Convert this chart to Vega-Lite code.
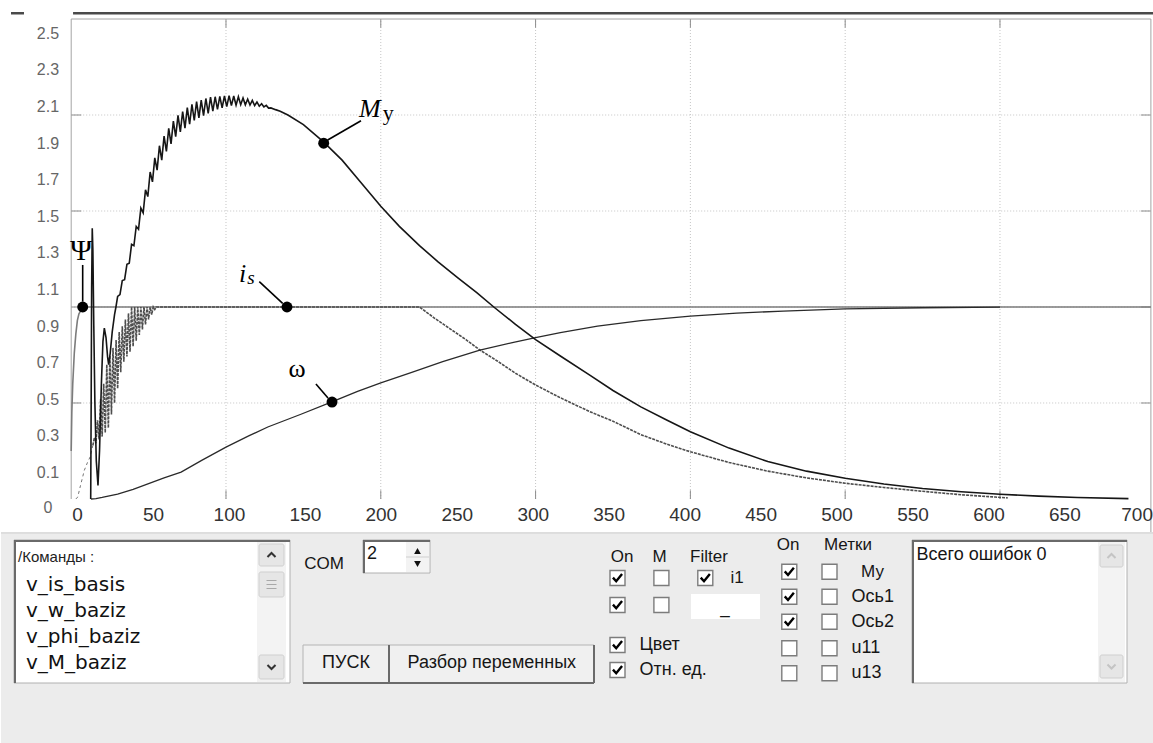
{
  "$schema": "https://vega.github.io/schema/vega-lite/v6.json",
  "background": "white",
  "padding": 0,
  "spacing": 0,
  "bounds": "flush",
  "config": {"view": {"stroke": null}},
  "resolve": {"scale": {"x": "independent", "y": "independent"}},
  "datasets": {
    "gridx": [{"t": 100}, {"t": 200}, {"t": 300}, {"t": 400}, {"t": 500}, {"t": 600}],
    "gridy": [{"v": 0.5}, {"v": 1.0}, {"v": 1.5}, {"v": 2.0}],
    "xlabels": [{"t":4.07,"s":"0"},{"t":53.14,"s":"50"},{"t":102.2,"s":"100"},{"t":151.3,"s":"150"},{"t":200.3,"s":"200"},{"t":249.4,"s":"250"},{"t":298.5,"s":"300"},{"t":347.5,"s":"350"},{"t":396.6,"s":"400"},{"t":445.7,"s":"450"},{"t":494.7,"s":"500"},{"t":543.8,"s":"550"},{"t":592.9,"s":"600"},{"t":641.9,"s":"650"},{"t":688.6,"s":"700"}],
    "ylabels": [{"v":-0.0469,"s":"0"},{"v":0.1354,"s":"0.1"},{"v":0.326,"s":"0.3"},{"v":0.5167,"s":"0.5"},{"v":0.7073,"s":"0.7"},{"v":0.8979,"s":"0.9"},{"v":1.0885,"s":"1.1"},{"v":1.2792,"s":"1.3"},{"v":1.4698,"s":"1.5"},{"v":1.6604,"s":"1.7"},{"v":1.851,"s":"1.9"},{"v":2.0417,"s":"2.1"},{"v":2.2323,"s":"2.3"},{"v":2.4229,"s":"2.5"}],
    "psi": [{"t":0,"v":0.25},{"t":0.4,"v":0.45},{"t":1,"v":0.6},{"t":2,"v":0.76},{"t":3,"v":0.86},{"t":4,"v":0.93},{"t":5,"v":0.965},{"t":6.5,"v":0.985},{"t":8.5,"v":0.997},{"t":11,"v":1.0},{"t":697.5,"v":1.0}],
    "is_early": [{"t":3,"v":0},{"t":4.2,"v":0.01},{"t":6,"v":0.07},{"t":8.5,"v":0.15},{"t":10.5,"v":0.19},{"t":12.3,"v":0.22},{"t":14,"v":0.28}],
    "is": [{"t":14,"v":0.28},{"t":15,"v":0.32},{"t":16,"v":0.29},{"t":17,"v":0.41},{"t":18,"v":0.31},{"t":19,"v":0.52},{"t":20,"v":0.325},{"t":21,"v":0.6},{"t":22,"v":0.345},{"t":23,"v":0.7},{"t":24,"v":0.37},{"t":25,"v":0.745},{"t":26,"v":0.44},{"t":27,"v":0.787},{"t":28,"v":0.5},{"t":29,"v":0.828},{"t":30,"v":0.575},{"t":31,"v":0.87},{"t":32,"v":0.66},{"t":33,"v":0.9},{"t":34,"v":0.715},{"t":35,"v":0.935},{"t":36,"v":0.742},{"t":37,"v":0.967},{"t":38,"v":0.767},{"t":39,"v":1.0},{"t":40,"v":0.795},{"t":41,"v":1.0},{"t":42,"v":0.825},{"t":43,"v":1.0},{"t":44,"v":0.855},{"t":45,"v":1.0},{"t":46,"v":0.883},{"t":47,"v":1.0},{"t":48,"v":0.909},{"t":49,"v":1.0},{"t":50,"v":0.935},{"t":51,"v":1.0},{"t":52,"v":0.96},{"t":53,"v":1.0},{"t":54,"v":0.987},{"t":55,"v":1.0},{"t":225,"v":1.0},{"t":235,"v":0.94},{"t":245,"v":0.885},{"t":255,"v":0.83},{"t":264,"v":0.776},{"t":275,"v":0.72},{"t":287,"v":0.655},{"t":300,"v":0.594},{"t":316,"v":0.527},{"t":335,"v":0.455},{"t":350,"v":0.405},{"t":368,"v":0.335},{"t":385,"v":0.285},{"t":400,"v":0.246},{"t":425,"v":0.19},{"t":450,"v":0.145},{"t":475,"v":0.11},{"t":500,"v":0.082},{"t":525,"v":0.06},{"t":550,"v":0.04},{"t":575,"v":0.022},{"t":597,"v":0.01},{"t":605,"v":0.006}],
    "omega": [{"t":12.8,"v":0},{"t":16,"v":0.002},{"t":20,"v":0.008},{"t":30,"v":0.025},{"t":40,"v":0.05},{"t":50,"v":0.08},{"t":60,"v":0.11},{"t":71,"v":0.14},{"t":84,"v":0.2},{"t":100,"v":0.27},{"t":115,"v":0.33},{"t":127,"v":0.375},{"t":148,"v":0.44},{"t":168,"v":0.505},{"t":185,"v":0.56},{"t":200,"v":0.605},{"t":220,"v":0.66},{"t":240,"v":0.715},{"t":264,"v":0.775},{"t":285,"v":0.815},{"t":300,"v":0.84},{"t":316,"v":0.866},{"t":340,"v":0.9},{"t":368,"v":0.929},{"t":400,"v":0.952},{"t":430,"v":0.968},{"t":460,"v":0.979},{"t":500,"v":0.99},{"t":550,"v":0.996},{"t":600,"v":0.999}],
    "my": [{"t":12.6,"v":0},{"t":12.9,"v":0.5},{"t":13.2,"v":1.1},{"t":13.6,"v":1.41},{"t":14.0,"v":1.3},{"t":14.6,"v":0.9},{"t":15.3,"v":0.5},{"t":16.2,"v":0.2},{"t":17.3,"v":0.07},{"t":18.3,"v":0.25},{"t":19.5,"v":0.6},{"t":20.5,"v":0.82},{"t":21.4,"v":0.89},{"t":22.5,"v":0.84},{"t":23.5,"v":0.74},{"t":24.2,"v":0.7},{"t":25.2,"v":0.76},{"t":26.5,"v":0.87},{"t":28,"v":0.96},{"t":28.9,"v":1.0},{"t":30,"v":1.055},{"t":31.5,"v":1.065},{"t":33,"v":1.138},{"t":34.5,"v":1.142},{"t":36,"v":1.222},{"t":37.5,"v":1.228},{"t":39,"v":1.326},{"t":40.5,"v":1.319},{"t":42,"v":1.42},{"t":43.5,"v":1.405},{"t":45,"v":1.515},{"t":46.5,"v":1.49},{"t":48,"v":1.61},{"t":49.5,"v":1.575},{"t":51,"v":1.703},{"t":52.5,"v":1.652},{"t":54,"v":1.777},{"t":55.5,"v":1.713},{"t":57,"v":1.84},{"t":58.5,"v":1.765},{"t":60,"v":1.89},{"t":61.5,"v":1.81},{"t":63,"v":1.93},{"t":64.5,"v":1.85},{"t":66,"v":1.968},{"t":67.5,"v":1.887},{"t":69,"v":1.998},{"t":70.5,"v":1.912},{"t":72,"v":2.018},{"t":73.5,"v":1.932},{"t":75,"v":2.038},{"t":76.5,"v":1.952},{"t":78,"v":2.056},{"t":79.5,"v":1.972},{"t":81,"v":2.07},{"t":82.5,"v":1.985},{"t":84,"v":2.078},{"t":85.5,"v":1.997},{"t":87,"v":2.086},{"t":88.5,"v":2.009},{"t":90,"v":2.093},{"t":91.5,"v":2.02},{"t":93,"v":2.095},{"t":94.5,"v":2.029},{"t":96,"v":2.097},{"t":97.5,"v":2.037},{"t":99,"v":2.099},{"t":100.5,"v":2.044},{"t":102,"v":2.101},{"t":103.5,"v":2.049},{"t":105,"v":2.099},{"t":106.5,"v":2.051},{"t":108,"v":2.095},{"t":109.5,"v":2.054},{"t":111,"v":2.089},{"t":112.5,"v":2.053},{"t":114,"v":2.083},{"t":115.5,"v":2.052},{"t":117,"v":2.076},{"t":118.5,"v":2.049},{"t":120,"v":2.068},{"t":121.5,"v":2.046},{"t":123,"v":2.059},{"t":124.5,"v":2.042},{"t":126,"v":2.05},{"t":127.5,"v":2.036},{"t":129,"v":2.037},{"t":132,"v":2.028},{"t":135,"v":2.02},{"t":140,"v":2.0},{"t":150,"v":1.95},{"t":163,"v":1.86},{"t":175,"v":1.765},{"t":187,"v":1.65},{"t":200,"v":1.525},{"t":212,"v":1.42},{"t":225,"v":1.32},{"t":237,"v":1.235},{"t":250,"v":1.15},{"t":262,"v":1.075},{"t":273,"v":1.0},{"t":287,"v":0.91},{"t":300,"v":0.83},{"t":316,"v":0.745},{"t":335,"v":0.645},{"t":350,"v":0.565},{"t":368,"v":0.48},{"t":385,"v":0.41},{"t":400,"v":0.35},{"t":425,"v":0.265},{"t":450,"v":0.195},{"t":475,"v":0.145},{"t":500,"v":0.108},{"t":525,"v":0.078},{"t":550,"v":0.055},{"t":575,"v":0.038},{"t":600,"v":0.025},{"t":625,"v":0.015},{"t":650,"v":0.008},{"t":683,"v":0.002}],
    "leaders": [{"t":7.42,"v":1.219,"t2":7.42,"v2":1.028},{"t":121.5,"v":1.132,"t2":136.6,"v2":1.019},{"t":187.2,"v":1.97,"t2":165.7,"v2":1.87},{"t":158.1,"v":0.599,"t2":165.9,"v2":0.526}],
    "dots": [{"t":7.43,"v":1.0},{"t":139.4,"v":1.0},{"t":163.1,"v":1.853},{"t":168.5,"v":0.505}],
    "ui_white": [{"x":13,"x2":289,"y":540,"y2":683},{"x":362,"x2":429,"y":540,"y2":573},{"x":911,"x2":1126,"y":540,"y2":683}],
    "ui_plain": [{"x":690,"x2":759,"y":594,"y2":619}],
    "ui_track": [{"x":256,"x2":285,"y":542,"y2":682},{"x":1097,"x2":1124,"y":542,"y2":682},{"x":405,"x2":428,"y":542,"y2":572}],
    "ui_sbtn": [{"x":258,"x2":283,"y":544,"y2":566},{"x":258,"x2":283,"y":572,"y2":597},{"x":258,"x2":283,"y":655,"y2":679},{"x":1099,"x2":1122,"y":545,"y2":567},{"x":1099,"x2":1122,"y":655,"y2":678}],
    "ui_btn": [{"x":302,"x2":388,"y":645,"y2":683},{"x":388,"x2":593,"y":645,"y2":683}],
    "ui_dark": [{"x":13,"y":541,"x2":289,"y2":541},{"x":14,"y":540,"x2":14,"y2":683},{"x":362,"y":541,"x2":429,"y2":541},{"x":363,"y":540,"x2":363,"y2":573},{"x":911,"y":541,"x2":1126,"y2":541},{"x":912,"y":540,"x2":912,"y2":683},{"x":302,"y":683,"x2":593,"y2":683},{"x":593,"y":645,"x2":593,"y2":683},{"x":388,"y":645,"x2":388,"y2":683}],
    "ui_light": [{"x":0,"y":533,"x2":1153,"y2":533},{"x":405,"y":557,"x2":428,"y2":557}],
    "ui_up_dark": [{"x":270.5,"y":555}],
    "ui_down_dark": [{"x":270.5,"y":667}],
    "ui_up_light": [{"x":1110.5,"y":556}],
    "ui_down_light": [{"x":1110.5,"y":666.5}],
    "ui_grip": [{"x":270.5,"y":584.5}],
    "ui_spin_up": [{"x":416.5,"y":551}],
    "ui_spin_down": [{"x":416.5,"y":564}],
    "ui_checks": [{"x":616.5,"y":578,"on":true},{"x":660.4,"y":578,"on":false},{"x":704.3,"y":578,"on":true},{"x":616.5,"y":605,"on":true},{"x":660.4,"y":605,"on":false},{"x":616.5,"y":645,"on":true},{"x":616.5,"y":670,"on":true},{"x":788.3,"y":571.7,"on":true},{"x":828.5,"y":571.7,"on":false},{"x":788.3,"y":596.7,"on":true},{"x":828.5,"y":596.7,"on":false},{"x":788.3,"y":621.7,"on":true},{"x":828.5,"y":621.7,"on":false},{"x":788.3,"y":648.3,"on":false},{"x":828.5,"y":648.3,"on":false},{"x":788.3,"y":673.3,"on":false},{"x":828.5,"y":673.3,"on":false}],
    "ui_list": [{"x":25,"y":585,"s":"v_is_basis"},{"x":25,"y":610.7,"s":"v_w_baziz"},{"x":25,"y":636.7,"s":"v_phi_baziz"},{"x":25,"y":662.7,"s":"v_M_baziz"}],
    "ui_head": [{"x":17,"y":556.7,"s":"/Команды :"}],
    "ui_center": [{"x":323,"y":564,"s":"COM"},{"x":621,"y":556.7,"s":"On"},{"x":658.6,"y":556.7,"s":"M"},{"x":708,"y":556.7,"s":"Filter"},{"x":736,"y":578,"s":"i1"},{"x":787,"y":545,"s":"On"},{"x":847,"y":545,"s":"Метки"},{"x":871.5,"y":571.7,"s":"Му"},{"x":724,"y":609,"s":"_"}],
    "ui_left": [{"x":638.5,"y":645,"s":"Цвет"},{"x":638.5,"y":670,"s":"Отн. ед."},{"x":850.5,"y":596.7,"s":"Ось1"},{"x":850.5,"y":621.7,"s":"Ось2"},{"x":850.5,"y":648.3,"s":"u11"},{"x":850.5,"y":673.3,"s":"u13"},{"x":915.5,"y":555,"s":"Всего ошибок 0"},{"x":366,"y":553.5,"s":"2"}],
    "ui_btn_text": [{"x":345,"y":663,"s":"ПУСК"},{"x":490.8,"y":663,"s":"Разбор переменных"}]
  },
  "vconcat": [
    {
      "width": 1153,
      "height": 532,
      "view": {"fill": "white", "stroke": null},
      "layer": [
        {"data": {"name": "gridx"}, "mark": {"type": "rule", "color": "#c4c4c4", "strokeDash": [1, 2], "strokeWidth": 1}, "encoding": {"x": {"field": "t", "type": "quantitative", "scale": {"domain": [-45.35, 699.5], "nice": false, "zero": false}, "axis": null}, "y": {"datum": 0, "scale": {"domain": [-0.1719, 2.599], "nice": false, "zero": false}, "axis": null}, "y2": {"datum": 2.5}}},
        {"data": {"name": "gridy"}, "mark": {"type": "rule", "color": "#c4c4c4", "strokeDash": [1, 2], "strokeWidth": 1}, "encoding": {"y": {"field": "v", "type": "quantitative", "axis": null}, "x": {"datum": 0, "axis": null}, "x2": {"datum": 697.5}}},
        {"data": {"name": "gridx"}, "mark": {"type": "rule", "color": "#8c8c8c", "strokeWidth": 1}, "encoding": {"x": {"field": "t", "type": "quantitative", "axis": null}, "y": {"datum": 0, "axis": null}, "y2": {"datum": 0.045}}},
        {"data": {"name": "gridx"}, "mark": {"type": "rule", "color": "#8c8c8c", "strokeWidth": 1}, "encoding": {"x": {"field": "t", "type": "quantitative", "axis": null}, "y": {"datum": 2.455, "axis": null}, "y2": {"datum": 2.5}}},
        {"data": {"name": "gridy"}, "mark": {"type": "rule", "color": "#8c8c8c", "strokeWidth": 1}, "encoding": {"y": {"field": "v", "type": "quantitative", "axis": null}, "x": {"datum": 0, "axis": null}, "x2": {"datum": 6.5}}},
        {"data": {"name": "gridy"}, "mark": {"type": "rule", "color": "#8c8c8c", "strokeWidth": 1}, "encoding": {"y": {"field": "v", "type": "quantitative", "axis": null}, "x": {"datum": 691, "axis": null}, "x2": {"datum": 697.5}}},
        {"data": {"values": [{}]}, "mark": {"type": "rule", "color": "#a4a4a4", "strokeWidth": 1}, "encoding": {"x": {"datum": 0, "axis": null}, "y": {"datum": 0, "axis": null}, "y2": {"datum": 2.5}}},
        {"data": {"values": [{}]}, "mark": {"type": "rule", "color": "#a4a4a4", "strokeWidth": 1}, "encoding": {"x": {"datum": 0, "axis": null}, "x2": {"datum": 697.5}, "y": {"datum": 2.5, "axis": null}}},
        {"data": {"values": [{}]}, "mark": {"type": "rule", "color": "#a4a4a4", "strokeWidth": 1}, "encoding": {"x": {"datum": 697.5, "axis": null}, "y": {"datum": -0.172, "axis": null}, "y2": {"datum": 2.5}}},
        {"data": {"values": [{}]}, "mark": {"type": "rule", "color": "#4a4a4a", "strokeWidth": 2.5}, "encoding": {"x": {"datum": 1.2, "axis": null}, "x2": {"datum": 699.5}, "y": {"datum": 2.53, "axis": null}}},
        {"data": {"values": [{}]}, "mark": {"type": "rule", "color": "#4a4a4a", "strokeWidth": 2.5}, "encoding": {"x": {"datum": -38.9, "axis": null}, "x2": {"datum": -30.5}, "y": {"datum": 2.53, "axis": null}}},
        {"data": {"name": "xlabels"}, "mark": {"type": "text", "font": "Liberation Sans", "fontSize": 19, "align": "center", "baseline": "middle", "color": "#333333"}, "encoding": {"x": {"field": "t", "type": "quantitative", "axis": null}, "y": {"datum": -0.0833, "axis": null}, "text": {"field": "s"}}},
        {"data": {"name": "ylabels"}, "mark": {"type": "text", "font": "Liberation Sans", "fontSize": 16, "align": "center", "baseline": "middle", "color": "#666666"}, "encoding": {"y": {"field": "v", "type": "quantitative", "axis": null}, "x": {"datum": -14.99, "axis": null}, "text": {"field": "s"}}},
        {"data": {"name": "psi"}, "mark": {"type": "line", "color": "#7c7c7c", "strokeWidth": 1.6}, "encoding": {"x": {"field": "t", "type": "quantitative", "axis": null}, "y": {"field": "v", "type": "quantitative", "axis": null}}},
        {"data": {"name": "is_early"}, "mark": {"type": "line", "color": "#777777", "strokeWidth": 1, "strokeDash": [3, 3]}, "encoding": {"x": {"field": "t", "type": "quantitative", "axis": null}, "y": {"field": "v", "type": "quantitative", "axis": null}}},
        {"data": {"name": "is"}, "mark": {"type": "line", "color": "#4e4e4e", "strokeWidth": 1.6, "strokeDash": [3, 1]}, "encoding": {"x": {"field": "t", "type": "quantitative", "axis": null}, "y": {"field": "v", "type": "quantitative", "axis": null}}},
        {"data": {"name": "omega"}, "mark": {"type": "line", "color": "#2a2a2a", "strokeWidth": 1.3}, "encoding": {"x": {"field": "t", "type": "quantitative", "axis": null}, "y": {"field": "v", "type": "quantitative", "axis": null}}},
        {"data": {"name": "my"}, "mark": {"type": "line", "color": "#161616", "strokeWidth": 1.6}, "encoding": {"x": {"field": "t", "type": "quantitative", "axis": null}, "y": {"field": "v", "type": "quantitative", "axis": null}}},
        {"data": {"name": "leaders"}, "mark": {"type": "rule", "color": "#000000", "strokeWidth": 1.6}, "encoding": {"x": {"field": "t", "type": "quantitative", "axis": null}, "y": {"field": "v", "type": "quantitative", "axis": null}, "x2": {"field": "t2"}, "y2": {"field": "v2"}}},
        {"data": {"name": "dots"}, "mark": {"type": "point", "shape": "circle", "filled": true, "color": "#000000", "size": 120, "opacity": 1}, "encoding": {"x": {"field": "t", "type": "quantitative", "axis": null}, "y": {"field": "v", "type": "quantitative", "axis": null}}},
        {"data": {"values": [{"t": 6.33, "v": 1.245, "s": "Ψ"}]}, "mark": {"type": "text", "font": "Liberation Serif", "fontSize": 30, "align": "center", "baseline": "alphabetic", "color": "#000000"}, "encoding": {"x": {"field": "t", "type": "quantitative", "axis": null}, "y": {"field": "v", "type": "quantitative", "axis": null}, "text": {"field": "s"}}},
        {"data": {"values": [{"t": 145.9, "v": 0.635, "s": "ω"}]}, "mark": {"type": "text", "font": "Liberation Serif", "fontSize": 26, "align": "center", "baseline": "alphabetic", "color": "#000000"}, "encoding": {"x": {"field": "t", "type": "quantitative", "axis": null}, "y": {"field": "v", "type": "quantitative", "axis": null}, "text": {"field": "s"}}},
        {"data": {"values": [{"t": 110.8, "v": 1.132, "s": "i"}, {"t": 192.9, "v": 1.988, "s": "M"}]}, "mark": {"type": "text", "font": "Liberation Serif", "fontSize": 26, "fontStyle": "italic", "align": "center", "baseline": "alphabetic", "color": "#000000"}, "encoding": {"x": {"field": "t", "type": "quantitative", "axis": null}, "y": {"field": "v", "type": "quantitative", "axis": null}, "text": {"field": "s"}}},
        {"data": {"values": [{"t": 116.2, "v": 1.12, "s": "s"}]}, "mark": {"type": "text", "font": "Liberation Serif", "fontSize": 19, "fontStyle": "italic", "align": "center", "baseline": "alphabetic", "color": "#000000"}, "encoding": {"x": {"field": "t", "type": "quantitative", "axis": null}, "y": {"field": "v", "type": "quantitative", "axis": null}, "text": {"field": "s"}}},
        {"data": {"values": [{"t": 204.8, "v": 1.974, "s": "у"}]}, "mark": {"type": "text", "font": "Liberation Serif", "fontSize": 22, "align": "center", "baseline": "alphabetic", "color": "#000000"}, "encoding": {"x": {"field": "t", "type": "quantitative", "axis": null}, "y": {"field": "v", "type": "quantitative", "axis": null}, "text": {"field": "s"}}}
      ]
    },
    {
      "width": 1153,
      "height": 211,
      "view": {"fill": "#ececec", "stroke": null},
      "layer": [
        {"data": {"name": "ui_white"}, "mark": {"type": "rect", "fill": "#ffffff", "stroke": "#b0b0b0", "strokeWidth": 1}, "encoding": {"x": {"field": "x", "type": "quantitative", "scale": {"domain": [0, 1153], "nice": false, "zero": false}, "axis": null}, "x2": {"field": "x2"}, "y": {"field": "y", "type": "quantitative", "scale": {"domain": [532, 743], "nice": false, "zero": false, "reverse": true}, "axis": null}, "y2": {"field": "y2"}}},
        {"data": {"name": "ui_plain"}, "mark": {"type": "rect", "fill": "#ffffff"}, "encoding": {"x": {"field": "x", "type": "quantitative", "axis": null}, "x2": {"field": "x2"}, "y": {"field": "y", "type": "quantitative", "axis": null}, "y2": {"field": "y2"}}},
        {"data": {"name": "ui_track"}, "mark": {"type": "rect", "fill": "#f3f3f3"}, "encoding": {"x": {"field": "x", "type": "quantitative", "axis": null}, "x2": {"field": "x2"}, "y": {"field": "y", "type": "quantitative", "axis": null}, "y2": {"field": "y2"}}},
        {"data": {"name": "ui_sbtn"}, "mark": {"type": "rect", "fill": "#e6e6e6", "stroke": "#cfcfcf", "strokeWidth": 1, "cornerRadius": 2}, "encoding": {"x": {"field": "x", "type": "quantitative", "axis": null}, "x2": {"field": "x2"}, "y": {"field": "y", "type": "quantitative", "axis": null}, "y2": {"field": "y2"}}},
        {"data": {"name": "ui_btn"}, "mark": {"type": "rect", "fill": "#f0f0f0", "stroke": "#b4b4b4", "strokeWidth": 1}, "encoding": {"x": {"field": "x", "type": "quantitative", "axis": null}, "x2": {"field": "x2"}, "y": {"field": "y", "type": "quantitative", "axis": null}, "y2": {"field": "y2"}}},
        {"data": {"name": "ui_dark"}, "mark": {"type": "rule", "color": "#6a6a6a", "strokeWidth": 2}, "encoding": {"x": {"field": "x", "type": "quantitative", "axis": null}, "x2": {"field": "x2"}, "y": {"field": "y", "type": "quantitative", "axis": null}, "y2": {"field": "y2"}}},
        {"data": {"name": "ui_light"}, "mark": {"type": "rule", "color": "#cfcfcf", "strokeWidth": 1}, "encoding": {"x": {"field": "x", "type": "quantitative", "axis": null}, "x2": {"field": "x2"}, "y": {"field": "y", "type": "quantitative", "axis": null}, "y2": {"field": "y2"}}},
        {"data": {"name": "ui_up_dark"}, "mark": {"type": "point", "shape": "M -0.6 0.3 L 0 -0.3 L 0.6 0.3", "filled": false, "stroke": "#333333", "strokeWidth": 2, "size": 180, "opacity": 1}, "encoding": {"x": {"field": "x", "type": "quantitative", "axis": null}, "y": {"field": "y", "type": "quantitative", "axis": null}}},
        {"data": {"name": "ui_down_dark"}, "mark": {"type": "point", "shape": "M -0.6 -0.3 L 0 0.3 L 0.6 -0.3", "filled": false, "stroke": "#333333", "strokeWidth": 2, "size": 180, "opacity": 1}, "encoding": {"x": {"field": "x", "type": "quantitative", "axis": null}, "y": {"field": "y", "type": "quantitative", "axis": null}}},
        {"data": {"name": "ui_up_light"}, "mark": {"type": "point", "shape": "M -0.6 0.3 L 0 -0.3 L 0.6 0.3", "filled": false, "stroke": "#c4c4c4", "strokeWidth": 2, "size": 180, "opacity": 1}, "encoding": {"x": {"field": "x", "type": "quantitative", "axis": null}, "y": {"field": "y", "type": "quantitative", "axis": null}}},
        {"data": {"name": "ui_down_light"}, "mark": {"type": "point", "shape": "M -0.6 -0.3 L 0 0.3 L 0.6 -0.3", "filled": false, "stroke": "#c4c4c4", "strokeWidth": 2, "size": 180, "opacity": 1}, "encoding": {"x": {"field": "x", "type": "quantitative", "axis": null}, "y": {"field": "y", "type": "quantitative", "axis": null}}},
        {"data": {"name": "ui_grip"}, "mark": {"type": "point", "shape": "M -0.5 -0.4 L 0.5 -0.4 M -0.5 0 L 0.5 0 M -0.5 0.4 L 0.5 0.4", "filled": false, "stroke": "#a8a8a8", "strokeWidth": 1, "size": 400, "opacity": 1}, "encoding": {"x": {"field": "x", "type": "quantitative", "axis": null}, "y": {"field": "y", "type": "quantitative", "axis": null}}},
        {"data": {"name": "ui_spin_up"}, "mark": {"type": "point", "shape": "triangle-up", "filled": true, "color": "#111111", "size": 45, "opacity": 1}, "encoding": {"x": {"field": "x", "type": "quantitative", "axis": null}, "y": {"field": "y", "type": "quantitative", "axis": null}}},
        {"data": {"name": "ui_spin_down"}, "mark": {"type": "point", "shape": "triangle-down", "filled": true, "color": "#111111", "size": 45, "opacity": 1}, "encoding": {"x": {"field": "x", "type": "quantitative", "axis": null}, "y": {"field": "y", "type": "quantitative", "axis": null}}},
        {"data": {"name": "ui_checks"}, "mark": {"type": "point", "shape": "square", "filled": true, "fill": "#ffffff", "stroke": "#7c7c7c", "strokeWidth": 1.4, "size": 225, "opacity": 1}, "encoding": {"x": {"field": "x", "type": "quantitative", "axis": null}, "y": {"field": "y", "type": "quantitative", "axis": null}}},
        {"data": {"name": "ui_checks"}, "transform": [{"filter": "datum.on"}], "mark": {"type": "point", "shape": "M -0.7 -0.05 L -0.2 0.5 L 0.7 -0.6", "filled": false, "stroke": "#000000", "strokeWidth": 2.4, "size": 170, "opacity": 1}, "encoding": {"x": {"field": "x", "type": "quantitative", "axis": null}, "y": {"field": "y", "type": "quantitative", "axis": null}}},
        {"data": {"name": "ui_list"}, "mark": {"type": "text", "font": "DejaVu Sans", "fontSize": 20, "align": "left", "baseline": "middle", "color": "#111111"}, "encoding": {"x": {"field": "x", "type": "quantitative", "axis": null}, "y": {"field": "y", "type": "quantitative", "axis": null}, "text": {"field": "s"}}},
        {"data": {"name": "ui_head"}, "mark": {"type": "text", "font": "Liberation Sans", "fontSize": 15, "align": "left", "baseline": "middle", "color": "#222222"}, "encoding": {"x": {"field": "x", "type": "quantitative", "axis": null}, "y": {"field": "y", "type": "quantitative", "axis": null}, "text": {"field": "s"}}},
        {"data": {"name": "ui_center"}, "mark": {"type": "text", "font": "Liberation Sans", "fontSize": 17, "align": "center", "baseline": "middle", "color": "#161616"}, "encoding": {"x": {"field": "x", "type": "quantitative", "axis": null}, "y": {"field": "y", "type": "quantitative", "axis": null}, "text": {"field": "s"}}},
        {"data": {"name": "ui_left"}, "mark": {"type": "text", "font": "Liberation Sans", "fontSize": 18, "align": "left", "baseline": "middle", "color": "#161616"}, "encoding": {"x": {"field": "x", "type": "quantitative", "axis": null}, "y": {"field": "y", "type": "quantitative", "axis": null}, "text": {"field": "s"}}},
        {"data": {"name": "ui_btn_text"}, "mark": {"type": "text", "font": "Liberation Sans", "fontSize": 18, "align": "center", "baseline": "middle", "color": "#161616"}, "encoding": {"x": {"field": "x", "type": "quantitative", "axis": null}, "y": {"field": "y", "type": "quantitative", "axis": null}, "text": {"field": "s"}}}
      ]
    }
  ]
}
